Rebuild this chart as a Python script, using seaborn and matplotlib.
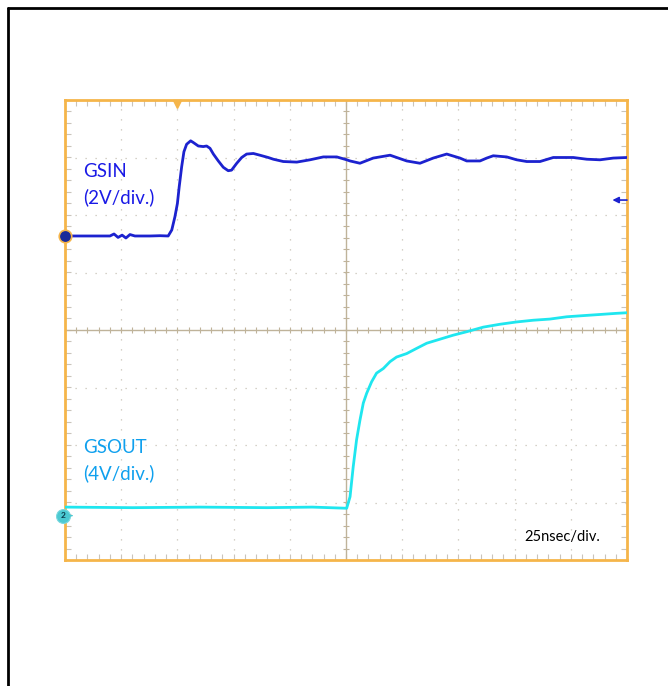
import numpy as np
import pandas as pd
import matplotlib
matplotlib.use("Agg")
import matplotlib.pyplot as plt
from matplotlib.lines import Line2D
import seaborn as sns

# ---- data (time in ns, amplitude in screen divisions) ----
gsin_t = [0, 20.0, 21.8, 23.6, 25.4, 27.1, 28.9, 31.1, 37.8, 42.3, 45.9, 47.5, 48.9, 50.0,
          50.8, 51.9, 52.9, 54.1, 55.9, 57.1, 59.3, 61.5, 63.0, 64.5, 66.0, 68.2, 70.4,
          72.6, 74.1, 76.4, 78.6, 80.8, 83.8, 86.7, 90.4, 92.7, 97.1, 103.1, 109.0, 114.9,
          120.9, 125.3, 126.8, 131.2, 137.1, 144.6, 152.0, 157.9, 163.8, 169.8, 175.7,
          178.7, 184.6, 187.6, 190.5, 196.5, 200.9, 205.4, 211.3, 217.2, 226.1, 232.1,
          238.0, 243.9, 250.0]
gsin_v = [1.635, 1.635, 1.67, 1.61, 1.65, 1.60, 1.66, 1.635, 1.635, 1.64, 1.635, 1.74, 1.97, 2.20,
          2.49, 2.84, 3.10, 3.23, 3.29, 3.26, 3.20, 3.19, 3.20, 3.16, 3.06, 2.94, 2.83,
          2.77, 2.78, 2.90, 3.00, 3.06, 3.07, 3.04, 3.00, 2.97, 2.93, 2.92, 2.96, 3.01,
          3.01, 2.96, 2.94, 2.90, 2.99, 3.04, 2.94, 2.90, 2.99, 3.06, 2.99,
          2.94, 2.94, 2.99, 3.03, 3.01, 2.96, 2.93, 2.93, 3.00, 3.00, 2.97,
          2.96, 2.99, 3.00]

gsout_t = [0, 30.0, 60.0, 90.0, 110.0, 125.3, 126.8, 128.2, 129.7, 131.2, 132.7, 134.2, 136.4,
           138.6, 141.6, 144.6, 147.5, 152.0, 156.4, 160.9, 166.8, 172.7, 178.7, 186.1,
           193.5, 200.9, 208.3, 215.7, 223.2, 230.5, 238.0, 245.4, 250.0]
gsout_v = [-3.08, -3.09, -3.08, -3.09, -3.08, -3.10, -2.90, -2.38, -1.91, -1.57, -1.27, -1.10, -0.90,
           -0.75, -0.67, -0.55, -0.47, -0.41, -0.32, -0.23, -0.16, -0.09, -0.03, 0.05,
           0.10, 0.14, 0.17, 0.19, 0.23, 0.25, 0.27, 0.29, 0.30]

labels = ["GSIN", "(2V/div.)", "GSOUT", "(4V/div.)", "25nsec/div."]

# ---- styling ----
sns.set_style("white")
plt.rcParams["font.family"] = ["Lato", "DejaVu Sans"]

BLUE = "#1c22cf"
CYAN = "#1fe6ef"
ORANGE = "#f5b54a"
GRID = "#c8c2b6"
CENTER = "#bfb39a"

fig = plt.figure(figsize=(6.68, 6.86), dpi=100)
ax = fig.add_axes([65 / 668, 1 - 560 / 686, (627 - 65) / 668, (560 - 100) / 686])

# grid (dotted) at every division
for gx in np.arange(25, 250, 25):
    if gx != 125:
        ax.axvline(gx, color=GRID, lw=0.9, ls=(0, (1, 7)), zorder=1)
for gy in np.arange(-3, 4, 1):
    if gy != 0:
        ax.axhline(gy, color=GRID, lw=0.9, ls=(0, (1, 7)), zorder=1)

# center cross with minor ticks
ax.axvline(125, color=CENTER, lw=1.0, zorder=1)
ax.axhline(0, color=CENTER, lw=1.0, zorder=1)
minor_x = np.arange(5, 250, 5)
minor_y = np.arange(-3.8, 4.0, 0.2)
ax.plot(minor_x, np.zeros_like(minor_x), ls="none", marker="|", ms=5, mew=0.8, color=CENTER, zorder=1)
ax.plot(np.full_like(minor_y, 125), minor_y, ls="none", marker="_", ms=5, mew=0.8, color=CENTER, zorder=1)

# traces
df1 = pd.DataFrame({"t": gsin_t, "v": gsin_v})
df2 = pd.DataFrame({"t": gsout_t, "v": gsout_v})
sns.lineplot(data=df1, x="t", y="v", ax=ax, color=BLUE, lw=2.0, zorder=3, sort=False)
sns.lineplot(data=df2, x="t", y="v", ax=ax, color=CYAN, lw=2.0, zorder=3, sort=False)

ax.set_xlim(0, 250)
ax.set_ylim(-4, 4)
ax.set_xlabel("")
ax.set_ylabel("")

# border
for s in ax.spines.values():
    s.set_visible(True)
    s.set_color(ORANGE)
    s.set_linewidth(2.0)

# inner ticks on the border
ax.set_xticks(minor_x)
ax.set_yticks(minor_y)
ax.tick_params(axis="both", which="both", direction="in", length=4, width=0.8, color="#c9c4bb",
               labelbottom=False, labelleft=False, top=True, right=True, bottom=True, left=True)

# channel markers
ax.plot([0], [gsin_v[0]], marker="o", ms=9, mfc="#1a2a9a", mec=ORANGE, mew=1.2, clip_on=False, zorder=5)
ax.plot([-1.0], [-3.23], marker="o", ms=10, mfc="#4cc9d2", mec="#7ad9df", mew=0.8, clip_on=False, zorder=5)
ax.text(-1.0, -3.23, "2", ha="center", va="center", fontsize=6, color="#0b3a4a", zorder=6, fontweight="bold")
ax.annotate("", xy=(4.5, -3.23), xytext=(1.8, -3.23),
            arrowprops=dict(arrowstyle="-|>", color="#4cc9d2", lw=0.8, mutation_scale=6), zorder=5)
ax.annotate("", xy=(243.5, 2.26), xytext=(250, 2.26),
            arrowprops=dict(arrowstyle="-|>", color=BLUE, lw=1.2, mutation_scale=9,
                            shrinkA=0, shrinkB=0), zorder=5)
ax.plot([49.8], [3.93], marker="v", ms=6, color=ORANGE, clip_on=False, zorder=5)

# labels
ax.text(8.0, 2.75, labels[0], color="#1a1ae6", fontsize=13.5, va="center", ha="left")
ax.text(8.0, 2.31, labels[1], color="#1a1ae6", fontsize=13.5, va="center", ha="left")
ax.text(8.0, -2.05, labels[2], color="#0fa0ee", fontsize=13.5, va="center", ha="left")
ax.text(8.0, -2.49, labels[3], color="#0fa0ee", fontsize=13.5, va="center", ha="left")
ax.text(238, -3.6, labels[4], color="black", fontsize=10.5, va="center", ha="right")

# outer frame (left and top edges)
fig.add_artist(Line2D([7.5 / 668, 7.5 / 668], [0, 1 - 7.5 / 686], color="black", lw=2.0,
                      transform=fig.transFigure))
fig.add_artist(Line2D([7.5 / 668, 1], [1 - 7.5 / 686, 1 - 7.5 / 686], color="black", lw=2.0,
                      transform=fig.transFigure))

fig.savefig("out.png", dpi=100)
